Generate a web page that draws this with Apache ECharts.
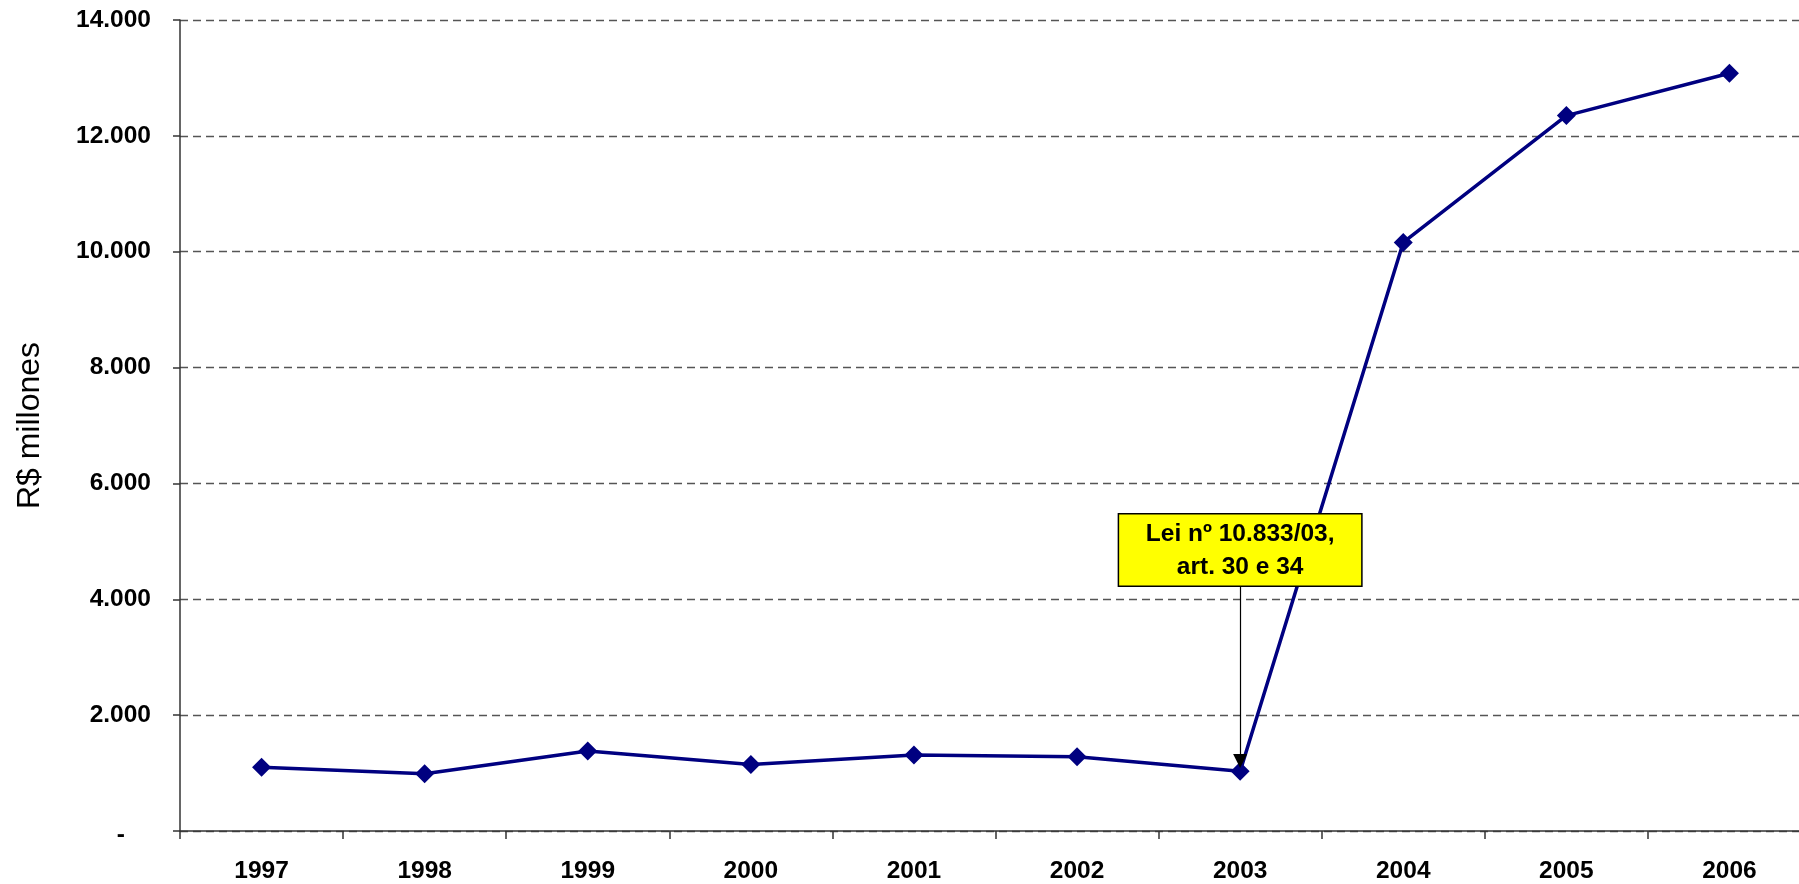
<!DOCTYPE html>
<html>
<head>
<meta charset="utf-8">
<script src="https://cdn.jsdelivr.net/npm/echarts@6/dist/echarts.min.js"></script>
<style>
  html, body { margin: 0; padding: 0; background: #fff; overflow: hidden; }
  /* o gráfico original está cortado à direita */
  #wrap { width: 1799px; height: 884px; overflow: hidden; position: relative; }
  #chart { width: 1811px; height: 884px; position: absolute; left: 0; top: 0; }
</style>
</head>
<body>
<div id="wrap"><div id="chart"></div></div>
<script>
// anos e valores (R$ millones)
const years = ['1997', '1998', '1999', '2000', '2001', '2002', '2003', '2004', '2005', '2006']
const valores = [1100, 990, 1380, 1150, 1310, 1280, 1030, 10160, 12350, 13080]
const yTicks = [0, 2000, 4000, 6000, 8000, 10000, 12000, 14000]

// nota da lei
const noteYear = '2003'
const noteLines = ['Lei nº 10.833/03,', 'art. 30 e 34']
const noteBase = 4230

const fontFamily = '"Liberation Sans", Arial, sans-serif'

function fmt(v) {
  if (v === 0) return '{d|-}'
  return String(v).replace(/\B(?=(\d{3})+(?!\d))/g, '.')
}

const noteValue = valores[years.indexOf(noteYear)]

const chart = echarts.init(document.getElementById('chart'))

chart.setOption({
  animation: false,
  backgroundColor: '#ffffff',
  grid: {
    left: 180,
    top: 20,
    right: 0,
    bottom: 50
  },
  xAxis: {
    type: 'category',
    data: years,
    boundaryGap: true,
    axisLine: { lineStyle: { color: '#333', width: 1.5 } },
    axisTick: { show: true, length: 8, lineStyle: { color: '#333', width: 1.5 } },
    axisLabel: {
      margin: 28,
      color: '#000',
      fontSize: 24.5,
      fontWeight: 'bold',
      fontFamily: fontFamily
    }
  },
  yAxis: {
    type: 'value',
    min: yTicks[0],
    max: yTicks[yTicks.length - 1],
    interval: yTicks[1] - yTicks[0],
    name: 'R$ millones',
    nameLocation: 'middle',
    nameGap: 134,
    nameTextStyle: {
      color: '#000',
      fontSize: 32,
      fontFamily: fontFamily
    },
    axisLine: { show: true, lineStyle: { color: '#333', width: 1.5 } },
    axisTick: { show: true, length: 7, lineStyle: { color: '#333', width: 1.5 } },
    axisLabel: {
      margin: 29,
      color: '#000',
      fontSize: 24.5,
      fontWeight: 'bold',
      fontFamily: fontFamily,
      formatter: fmt,
      rich: {
        d: {
          fontSize: 24.5,
          fontWeight: 'bold',
          fontFamily: fontFamily,
          padding: [8, 26, 0, 0]
        }
      }
    },
    splitLine: {
      show: true,
      lineStyle: { color: '#555', width: 1.3, type: [8, 5] }
    }
  },
  series: [{
    type: 'line',
    data: valores,
    symbol: 'diamond',
    symbolSize: 19,
    lineStyle: { color: '#000080', width: 3.5 },
    itemStyle: { color: '#000080' },
    markLine: {
      silent: true,
      symbol: ['none', 'triangle'],
      symbolSize: [14, 14],
      label: { show: false },
      lineStyle: { color: '#000', width: 1.2, type: 'solid' },
      data: [[
        { coord: [noteYear, noteBase] },
        { coord: [noteYear, noteValue + 180] }
      ]]
    },
    markPoint: {
      silent: true,
      symbol: 'rect',
      symbolSize: 1,
      itemStyle: { color: 'rgba(0,0,0,0)' },
      label: {
        show: true,
        position: 'top',
        distance: 0,
        formatter: noteLines.join('\n'),
        color: '#000',
        fontSize: 24.5,
        fontWeight: 'bold',
        fontFamily: fontFamily,
        lineHeight: 33,
        align: 'center',
        backgroundColor: '#ffff00',
        borderColor: '#000',
        borderWidth: 1.5,
        width: 238,
        padding: [3, 2, 2, 2]
      },
      data: [{ coord: [noteYear, noteBase] }]
    }
  }]
})
</script>
</body>
</html>
